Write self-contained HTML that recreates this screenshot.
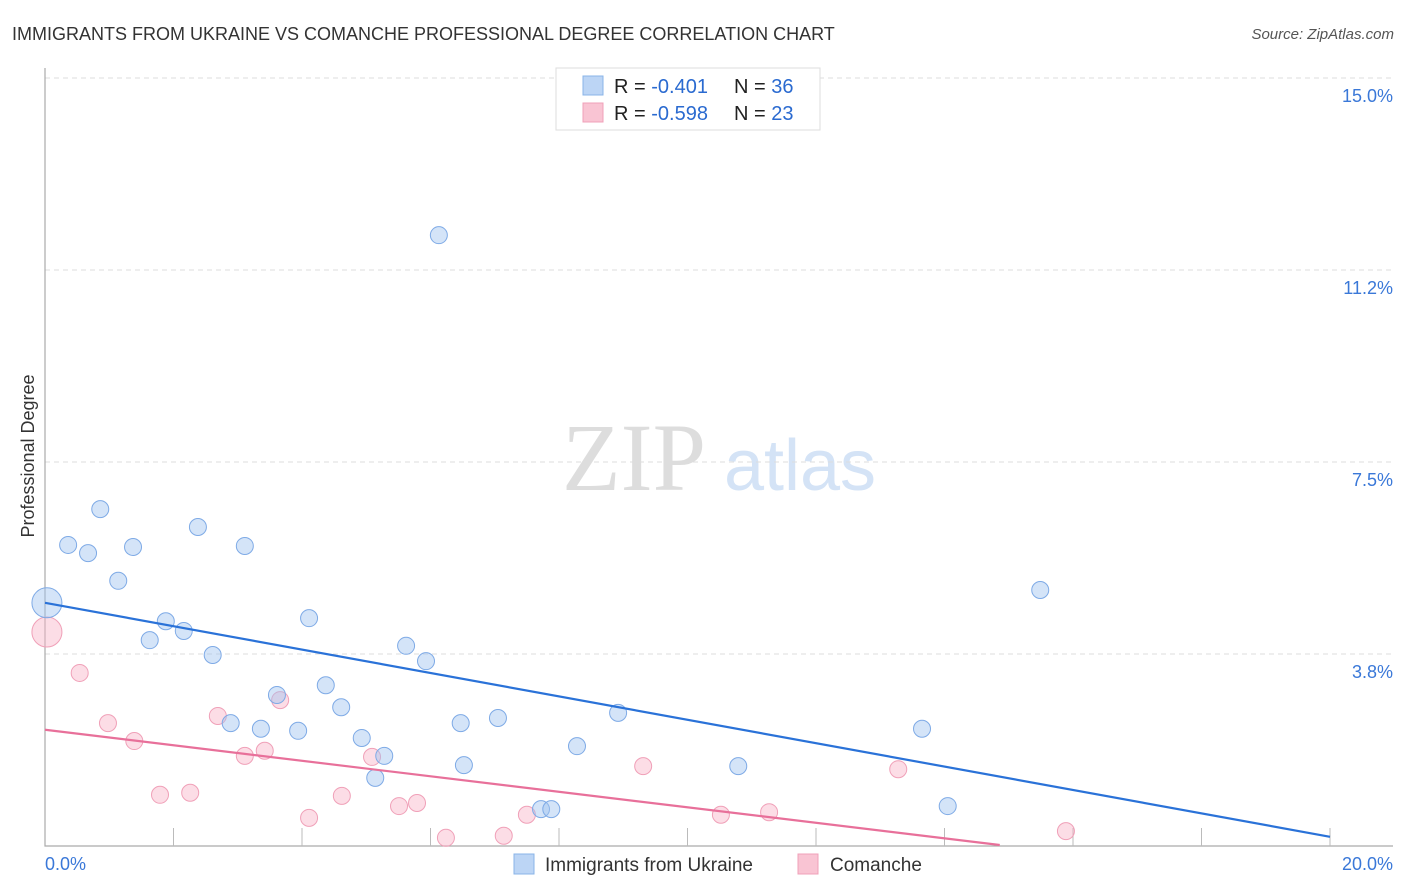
<!DOCTYPE html>
<html><head><meta charset="utf-8"><style>
body{margin:0;background:#fff;font-family:"Liberation Sans",sans-serif;}
svg{display:block}
</style></head><body>
<svg id="chart" width="1406" height="892">
<text x="12" y="40" font-size="18" fill="#333">IMMIGRANTS FROM UKRAINE VS COMANCHE PROFESSIONAL DEGREE CORRELATION CHART</text>
<text x="1394" y="39" font-size="15" fill="#555" font-style="italic" text-anchor="end">Source: ZipAtlas.com</text>
<text x="0" y="0" transform="translate(34,456) rotate(-90)" font-size="18" fill="#333" text-anchor="middle">Professional Degree</text>
<g><text x="634" y="490" font-size="96" fill="#ddd" font-family="Liberation Serif,serif" text-anchor="middle">ZIP</text><text x="800" y="490" font-size="72" fill="#d4e3f6" text-anchor="middle">atlas</text></g>
<g id="grid"></g>
<g id="axes"></g>
<g id="marks"></g>
<g>
<rect x="556" y="68" width="264" height="62" fill="#fff" stroke="#ddd"/>
<rect x="583" y="76" width="20" height="19" fill="#bcd5f5" stroke="#8ab4e8"/>
<rect x="583" y="103" width="20" height="19" fill="#f9c4d3" stroke="#f0a0b8"/>
<text x="614" y="93" font-size="20" fill="#222">R = <tspan fill="#2a6ad0">-0.401</tspan><tspan x="734">N = </tspan><tspan fill="#2a6ad0">36</tspan></text>
<text x="614" y="120" font-size="20" fill="#222">R = <tspan fill="#2a6ad0">-0.598</tspan><tspan x="734">N = </tspan><tspan fill="#2a6ad0">23</tspan></text>
</g>
<g>
<rect x="514" y="854" width="20" height="20" fill="#bcd5f5" stroke="#8ab4e8"/>
<text x="545" y="871" font-size="19" fill="#333">Immigrants from Ukraine</text>
<rect x="798" y="854" width="20" height="20" fill="#f9c4d3" stroke="#f0a0b8"/>
<text x="830" y="871" font-size="19" fill="#333">Comanche</text>
</g>
</svg>
<script>
const yTicks=[3.75,7.5,11.25,15];
const yTickLabels=["3.8%","7.5%","11.2%","15.0%"];
const xTickLabels=["0.0%","20.0%"];
const blueX=[0.03,0.36,0.67,0.86,1.14,1.37,1.63,1.88,2.16,2.38,2.61,3.11,2.89,3.36,3.61,3.94,4.11,4.37,4.61,4.93,5.14,5.28,5.62,5.93,6.13,6.47,6.52,7.05,7.72,7.88,8.28,8.92,10.79,13.65,14.05,15.49];
const blueY=[4.75,5.88,5.72,6.58,5.18,5.84,4.02,4.39,4.20,6.23,3.73,5.86,2.40,2.29,2.95,2.25,4.45,3.14,2.71,2.11,1.33,1.76,3.91,3.61,11.93,2.40,1.58,2.50,0.72,0.72,1.95,2.60,1.56,2.29,0.78,5.00];
const pinkX=[0.03,0.54,0.98,1.39,1.79,2.26,2.69,3.11,3.42,3.66,4.11,4.62,5.09,5.51,5.79,6.24,7.14,7.50,9.31,10.52,11.27,13.28,15.89];
const pinkY=[4.18,3.38,2.40,2.05,1.00,1.04,2.54,1.76,1.86,2.85,0.55,0.98,1.74,0.78,0.84,0.16,0.20,0.61,1.56,0.61,0.66,1.50,0.29];
const blueTrend=[[0,4.75],[20,0.18]];
const pinkTrend=[[0,2.27],[14.86,0.02]];
const X=v=>45+v/20*1285, Y=v=>846-v/3.75*192;
const NS="http://www.w3.org/2000/svg";
function mk(parent,tag,attrs){const e=document.createElementNS(NS,tag);for(const k in attrs)e.setAttribute(k,attrs[k]);document.getElementById(parent).appendChild(e);return e;}
yTicks.forEach((t,i)=>{
 const l=mk('grid','line',{x1:45,x2:1393,y1:Y(t),y2:Y(t),stroke:'#ddd','stroke-dasharray':'5,4'});
 
 
 const tx=mk('grid','text',{x:1393,y:Y(t)+24,'font-size':18,fill:'#3a78d8','text-anchor':'end'});
 tx.textContent=yTickLabels[i];
 
 
});
const ax=mk('axes','path',{d:`M45,68 V846 H1393`,stroke:'#aaa',fill:'none','stroke-width':1.2});


for(let i=1;i<=10;i++){
 const t=mk('axes','line',{x1:X(i*2),x2:X(i*2),y1:828,y2:846,stroke:'#bbb'});
 
 
}
const xl0=mk('axes','text',{x:45,y:870,'font-size':18,fill:'#3a78d8'});xl0.textContent=xTickLabels[0];


const xl1=mk('axes','text',{x:1393,y:870,'font-size':18,fill:'#3a78d8','text-anchor':'end'});xl1.textContent=xTickLabels[1];


function pts(xs,ys,fill,stroke,name){xs.forEach((x,i)=>{
 const c=mk('marks','circle',{cx:X(x),cy:Y(ys[i]),r:i===0?15:8.5,fill:fill,stroke:stroke,'stroke-width':1});
 
 
});}
pts(pinkX,pinkY,'rgba(248,180,200,0.45)','#f0a0b8','comanche-point');
pts(blueX,blueY,'rgba(160,196,240,0.45)','#7eaae6','ukraine-point');
const bl=mk('marks','line',{x1:X(blueTrend[0][0]),y1:Y(blueTrend[0][1]),x2:X(blueTrend[1][0]),y2:Y(blueTrend[1][1]),stroke:'#2a72d8','stroke-width':2.2});


const pl=mk('marks','line',{x1:X(pinkTrend[0][0]),y1:Y(pinkTrend[0][1]),x2:X(pinkTrend[1][0]),y2:Y(pinkTrend[1][1]),stroke:'#e8709a','stroke-width':2.2});


</script>
</body></html>
